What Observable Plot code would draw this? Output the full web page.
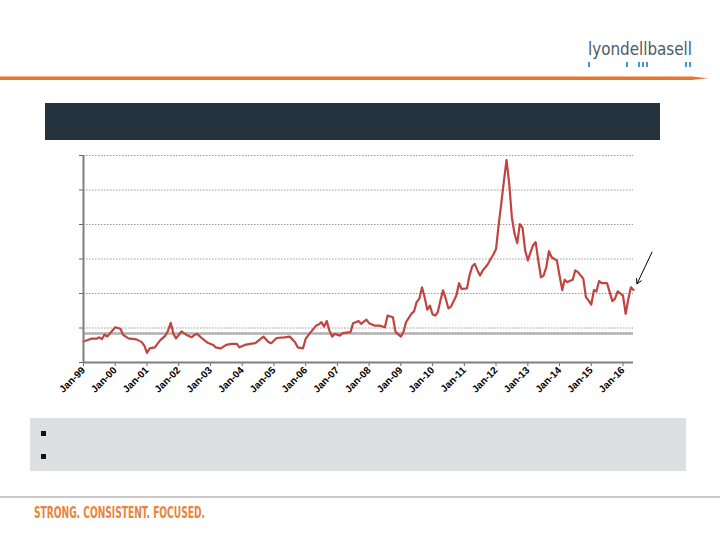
<!DOCTYPE html>
<html><head><meta charset="utf-8">
<script src="https://cdn.jsdelivr.net/npm/d3@7"></script>
<script src="https://cdn.jsdelivr.net/npm/@observablehq/plot@0.6"></script>
<style>
html,body{margin:0;padding:0;background:#fff;}
#page{position:relative;width:720px;height:540px;overflow:hidden;font-family:Arial,"Liberation Sans",sans-serif;}
.abs{position:absolute;}
</style></head><body>
<div id="page">
  <svg class="abs" style="left:0;top:0" width="720" height="100">
    <text x="588" y="55" font-size="17" textLength="104" lengthAdjust="spacingAndGlyphs" fill="#4c5a68" font-family="'Liberation Sans Narrow','DejaVu Sans Condensed',Arial,sans-serif">lyondellbasell</text>
    <g stroke="#2f8ccf" stroke-width="1.8">
      <line x1="589" y1="62" x2="589" y2="67"/><line x1="627" y1="62" x2="627" y2="67"/>
      <line x1="639" y1="62" x2="639" y2="67"/><line x1="643" y1="62" x2="643" y2="67"/>
      <line x1="647" y1="62" x2="647" y2="67"/><line x1="686" y1="62" x2="686" y2="67"/>
      <line x1="690" y1="62" x2="690" y2="67"/>
    </g>
    <polygon points="0,76.5 692,76.5 708,78.3 692,80 0,80" fill="#e8772e"/>
  </svg>
  <div class="abs" style="left:45px;top:103px;width:615px;height:37px;background:#25333e"></div>
  <div id="chart" class="abs" style="left:0;top:145px"></div>
  <div class="abs" style="left:30px;top:418px;width:656px;height:53px;background:#dce0e3"></div>
  <div class="abs" style="left:41px;top:431px;width:5px;height:5px;background:#111"></div>
  <div class="abs" style="left:41px;top:454px;width:5px;height:5px;background:#111"></div>
  <div class="abs" style="left:0;top:496px;width:720px;height:1.5px;background:#c8c8c8"></div>
  <svg class="abs" style="left:0;top:500px" width="300" height="30">
    <text x="34" y="18" font-size="15" font-weight="bold" textLength="171" lengthAdjust="spacingAndGlyphs" fill="#e8843c" font-family="'Liberation Sans Narrow','DejaVu Sans Condensed',Arial,sans-serif">STRONG. CONSISTENT. FOCUSED.</text>
  </svg>
</div>
<script>
const months = [
 "1999-01","1999-04","1999-06","1999-07","1999-08","1999-09","1999-10","1999-12",
 "2000-01","2000-03","2000-04","2000-06","2000-09","2000-11","2000-12",
 "2001-01","2001-02","2001-04","2001-06","2001-08","2001-09","2001-10","2001-11","2001-12",
 "2002-02","2002-04","2002-06","2002-07","2002-08","2002-10","2002-12",
 "2003-02","2003-03","2003-05","2003-07","2003-09","2003-11","2003-12",
 "2004-02","2004-04","2004-06","2004-09","2004-11","2004-12",
 "2005-02","2005-05","2005-07","2005-09","2005-10","2005-12",
 "2006-01","2006-03","2006-05","2006-06","2006-07","2006-08","2006-09","2006-10","2006-11","2006-12",
 "2007-02","2007-03","2007-06","2007-07","2007-09","2007-10","2007-12",
 "2008-01","2008-03","2008-05","2008-07","2008-08","2008-10","2008-11",
 "2009-01","2009-02","2009-03","2009-05","2009-06","2009-07","2009-08","2009-09","2009-10","2009-11","2009-12",
 "2010-01","2010-02","2010-03","2010-04","2010-05","2010-06","2010-07","2010-08","2010-10","2010-11","2010-12",
 "2011-02","2011-03","2011-04","2011-05","2011-06","2011-07","2011-08","2011-09","2011-10","2011-11","2011-12",
 "2012-01","2012-02","2012-03","2012-04","2012-05","2012-06","2012-07","2012-08","2012-09","2012-10","2012-11","2012-12",
 "2013-01","2013-02","2013-03","2013-04","2013-05","2013-06","2013-07","2013-08","2013-09","2013-10","2013-11","2013-12",
 "2014-01","2014-02","2014-03","2014-04","2014-06","2014-07","2014-08","2014-10","2014-11","2014-12",
 "2015-01","2015-02","2015-03","2015-04","2015-05","2015-07","2015-09","2015-10","2015-11",
 "2016-01","2016-02","2016-03","2016-04","2016-05"
];
const values = [
 0.61,0.69,0.69,0.73,0.68,0.81,0.75,0.93,
 1.02,0.98,0.80,0.70,0.67,0.59,0.49,
 0.28,0.41,0.44,0.64,0.78,0.93,1.15,0.83,0.70,
 0.90,0.80,0.73,0.80,0.83,0.69,0.57,
 0.51,0.44,0.41,0.51,0.54,0.54,0.44,
 0.51,0.54,0.56,0.75,0.59,0.56,
 0.71,0.73,0.75,0.59,0.44,0.41,
 0.69,0.88,1.07,1.10,1.17,1.04,1.20,0.93,0.75,0.83,
 0.78,0.85,0.88,1.14,1.20,1.12,1.24,
 1.14,1.07,1.07,1.02,1.36,1.31,0.88,
 0.75,0.90,1.17,1.41,1.48,1.75,1.85,2.18,1.89,1.53,1.65,
 1.39,1.36,1.46,1.80,2.09,1.85,1.57,1.62,1.94,2.30,2.13,
 2.15,2.52,2.78,2.86,2.67,2.52,2.67,2.76,2.86,3.00,3.13,
 3.29,4.01,4.60,5.27,5.87,5.18,4.21,3.73,3.46,4.01,3.90,3.25,
 2.96,3.20,3.39,3.49,2.96,2.47,2.52,2.76,3.23,3.05,3.00,2.96,
 2.52,2.10,2.40,2.33,2.40,2.67,2.62,2.43,1.89,1.80,
 1.68,2.10,2.06,2.36,2.30,2.30,1.78,1.85,2.06,
 1.94,1.41,1.82,2.18,2.10
];
const tickYears = ["1999","2000","2001","2002","2003","2004","2005","2006","2007","2008","2009","2010","2011","2012","2013","2014","2015","2016"];
const tickLabels = ["Jan-99","Jan-00","Jan-01","Jan-02","Jan-03","Jan-04","Jan-05","Jan-06","Jan-07","Jan-08","Jan-09","Jan-10","Jan-11","Jan-12","Jan-13","Jan-14","Jan-15","Jan-16"];
const gridLevels = [1,2,3,4,5,6];
const yTicks = [0,1,2,3,4,5,6];
const refLevel = 0.84;
const xStart = "1999-01", xEnd = "2016-05";

const parse = d3.utcParse("%Y-%m");
const data = months.map((m,i) => ({date: parse(m), value: values[i]}));
const tickDates = tickYears.map(y => d3.utcParse("%Y")(y));
const labelOf = new Map(tickDates.map((d,i) => [+d, tickLabels[i]]));
const last = data[data.length-1];

const chart = Plot.plot({
  width: 720, height: 260,
  marginLeft: 83, marginRight: 87, marginTop: 10, marginBottom: 43,
  x: {type: "utc", domain: [parse(xStart), parse(xEnd)]},
  y: {domain: [0, 6]},
  style: {fontFamily: "Arial, 'Liberation Sans', sans-serif", fontSize: "10px", fontWeight: "bold", background: "transparent", color: "#000", overflow: "visible"},
  marks: [
    Plot.ruleY(gridLevels, {stroke: "#999", strokeDasharray: "1.5,1.5", strokeWidth: 1}),
    Plot.ruleY([refLevel], {stroke: "#b0b0b0", strokeWidth: 2.5}),
    Plot.lineY(data, {x: "date", y: "value", stroke: "#c0443f", strokeWidth: 2.2, curve: "linear"}),
    Plot.axisY({ticks: yTicks, tickSize: 4, tickFormat: () => "", stroke: "#666", label: null}),
    Plot.axisX({ticks: tickDates, tickFormat: d => labelOf.get(+d), tickSize: 4, tickPadding: 2, tickRotate: -45, stroke: "#666", label: null, fill: "#000"}),
    Plot.ruleY([0], {stroke: "#7f7f7f", strokeWidth: 2}),
    Plot.ruleX([parse(xStart)], {stroke: "#7f7f7f", strokeWidth: 2}),
    Plot.arrow([last], {
      x1: d => d3.utcDay.offset(d.date, 213), y1: d => d.value + 1.1,
      x2: d => d3.utcDay.offset(d.date, 40), y2: d => d.value + 0.18,
      stroke: "#000", strokeWidth: 1, headLength: 8, clip: false
    })
  ]
});
document.getElementById("chart").appendChild(chart);
</script>
</body></html>
